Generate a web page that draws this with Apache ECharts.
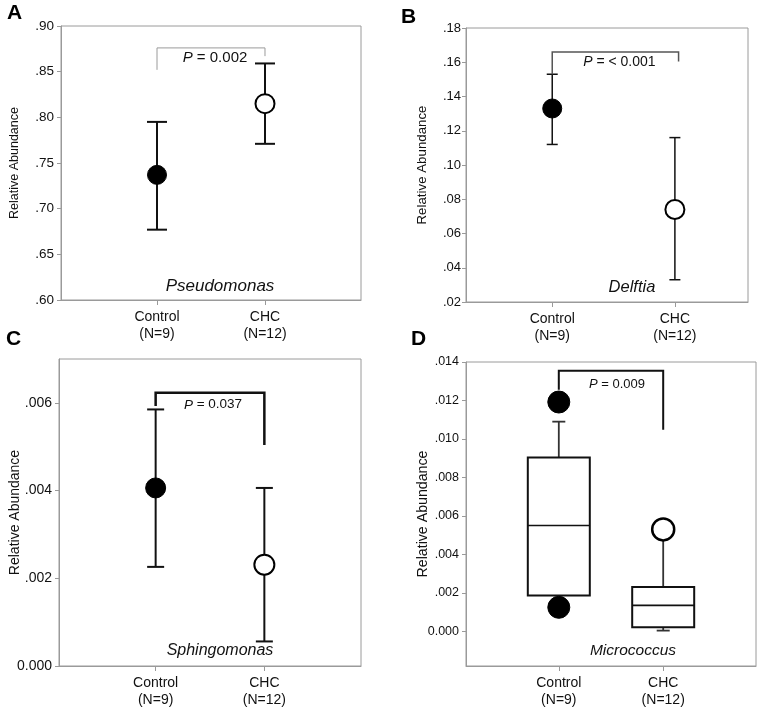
<!DOCTYPE html>
<html>
<head>
<meta charset="utf-8">
<script src="https://cdn.jsdelivr.net/npm/echarts@6/dist/echarts.min.js"></script>
<style>
html,body{margin:0;padding:0;background:#fff;}
#chart{width:759px;height:710px;}
</style>
</head>
<body>
<div id="chart"></div>
<script>
// ---------- data ----------
const categories = ['Control\n(N=9)', 'CHC\n(N=12)'];
const catPos = [0, 1];

// Panel A – Pseudomonas (mean with error bars)
const pseudoMean  = [0.737, 0.815];
const pseudoLower = [0.677, 0.771];
const pseudoUpper = [0.795, 0.859];
const pseudoBracket = [0.876, 0.852, 0.867];   // top, left end, right end
const pseudoP = '0.002';
const pseudoTicks = [0.60, 0.65, 0.70, 0.75, 0.80, 0.85, 0.90];

// Panel B – Delftia
const delftiaMean  = [0.133, 0.074];
const delftiaLower = [0.112, 0.033];
const delftiaUpper = [0.153, 0.116];
const delftiaBracket = [0.166, 0.153, 0.1605];
const delftiaP = '< 0.001';
const delftiaTicks = [0.02, 0.04, 0.06, 0.08, 0.10, 0.12, 0.14, 0.16, 0.18];

// Panel C – Sphingomonas
const sphingoMean  = [0.00406, 0.00231];
const sphingoLower = [0.00226, 0.00056];
const sphingoUpper = [0.00585, 0.00406];
const sphingoBracket = [0.00623, 0.00593, 0.00504];
const sphingoP = '0.037';
const sphingoTicks = [0, 0.002, 0.004, 0.006];

// Panel D – Micrococcus (box plot: whisker low, Q1, median, Q3, whisker high)
const microBox = [
  [0.00187, 0.00187, 0.0055, 0.00904, 0.0109],
  [0.00004, 0.00021, 0.00135, 0.00231, 0.0049]
];
const microOutlierGroup = [0, 0, 1];
const microOutlierValue = [0.01192, 0.00125, 0.0053];
const microBracket = [0.01355, 0.01256, 0.01048];
const microP = '0.009';
const microTicks = [0, 0.002, 0.004, 0.006, 0.008, 0.010, 0.012, 0.014];

// ---------- styling / layout ----------
const FF = '"Liberation Sans", Arial, Helvetica, sans-serif';
const AX = '#9a9a9a';
const TXT = '#111';

const panels = [
  {grid:{left:61, top:26, width:300, height:274}, xr:[-0.889, 1.889], yr:[0.60, 0.90], ticks:pseudoTicks, dec:2,
   lblSize:13.5, nameSize:12.5, nameGap:40, lblMargin:7,
   genus:'Pseudomonas', genusPos:[220, 286], genusSize:17, letter:'A', letterPos:[7, 13.5]},
  {grid:{left:466, top:28, width:282, height:274}, xr:[-0.703, 1.596], yr:[0.02, 0.18], ticks:delftiaTicks, dec:2,
   lblSize:13, nameSize:13.3, nameGap:37, lblMargin:5,
   genus:'Delftia', genusPos:[632, 287], genusSize:16.5, letter:'B', letterPos:[401, 17]},
  {grid:{left:59, top:359, width:302, height:307}, xr:[-0.889, 1.889], yr:[0, 0.007], ticks:sphingoTicks, dec:3,
   lblSize:14, nameSize:14, nameGap:37, lblMargin:7,
   genus:'Sphingomonas', genusPos:[220, 651], genusSize:16, letter:'C', letterPos:[6, 339]},
  {grid:{left:466, top:362, width:290, height:304}, xr:[-0.889, 1.889], yr:[-0.0018, 0.014], ticks:microTicks, dec:3,
   lblSize:12.5, nameSize:14.2, nameGap:36, lblMargin:7,
   genus:'Micrococcus', genusPos:[633, 651], genusSize:15.5, letter:'D', letterPos:[411, 339]}
];

function yFmt(dec) {
  return function (v) {
    if (Math.abs(v) < 1e-12) return (0).toFixed(dec);
    return v.toFixed(dec).replace(/^0/, '');
  };
}

const grids = [], xAxes = [], yAxes = [], series = [], graphics = [];

panels.forEach(function (p, i) {
  grids.push(Object.assign({show:true, borderColor:AX, borderWidth:1, backgroundColor:'#fff'}, p.grid));
  xAxes.push({
    type:'value', gridIndex:i, min:p.xr[0], max:p.xr[1],
    axisLine:{show:true, onZero:false, lineStyle:{color:AX, width:1}},
    axisTick:{show:true, customValues:catPos, length:5, lineStyle:{color:AX}},
    axisLabel:{customValues:catPos, formatter:function (v) { return categories[Math.round(v)]; },
      fontSize:14, lineHeight:17, color:TXT, fontFamily:FF, margin:9},
    splitLine:{show:false}
  });
  yAxes.push({
    type:'value', gridIndex:i, min:p.yr[0], max:p.yr[1],
    axisLine:{show:true, onZero:false, lineStyle:{color:AX, width:1}},
    axisTick:{show:true, customValues:p.ticks, length:4, lineStyle:{color:AX}},
    axisLabel:{customValues:p.ticks, formatter:yFmt(p.dec), fontSize:p.lblSize, color:TXT, fontFamily:FF, margin:p.lblMargin},
    splitLine:{show:false},
    name:'Relative Abundance', nameLocation:'middle', nameGap:p.nameGap, nameMoveOverlap:false,
    nameTextStyle:{fontSize:p.nameSize, color:TXT, fontFamily:FF}
  });
  graphics.push({type:'text', x:p.genusPos[0], y:p.genusPos[1], z:10,
    style:{text:p.genus, fontStyle:'italic', fontSize:p.genusSize, fontFamily:FF, fill:TXT, align:'center', verticalAlign:'middle'}});
  graphics.push({type:'text', x:p.letterPos[0], y:p.letterPos[1], z:10,
    style:{text:p.letter, fontWeight:'bold', fontSize:21, fontFamily:FF, fill:'#000', align:'left', verticalAlign:'middle'}});
});

function errorBarSeries(idx, lower, upper, lw, capHalf) {
  return {
    type:'custom', xAxisIndex:idx, yAxisIndex:idx, z:2, silent:true,
    data: catPos.map(function (x, k) { return [x, lower[k], upper[k]]; }),
    renderItem: function (params, api) {
      const x = api.value(0);
      const lo = api.coord([x, api.value(1)]);
      const hi = api.coord([x, api.value(2)]);
      const st = {stroke:'#111', lineWidth:lw};
      return {type:'group', children:[
        {type:'line', shape:{x1:lo[0], y1:lo[1], x2:hi[0], y2:hi[1]}, style:st},
        {type:'line', shape:{x1:hi[0]-capHalf, y1:hi[1], x2:hi[0]+capHalf, y2:hi[1]}, style:st},
        {type:'line', shape:{x1:lo[0]-capHalf, y1:lo[1], x2:lo[0]+capHalf, y2:lo[1]}, style:st}
      ]};
    }
  };
}

function meanSeries(idx, mean, size, bw) {
  return {
    type:'scatter', xAxisIndex:idx, yAxisIndex:idx, z:3, silent:true, symbol:'circle', symbolSize:size,
    data:[
      {value:[catPos[0], mean[0]], itemStyle:{color:'#000', borderColor:'#000', borderWidth:1, opacity:1}},
      {value:[catPos[1], mean[1]], itemStyle:{color:'#fff', borderColor:'#000', borderWidth:bw, opacity:1}}
    ]
  };
}

function bracketSeries(idx, br, pval, xRight, color, lw, fs, dx, dy) {
  return {
    type:'custom', xAxisIndex:idx, yAxisIndex:idx, z:4, silent:true,
    data:[[catPos[0], xRight, br[0], br[1], br[2]]],
    renderItem: function (params, api) {
      const x0 = api.value(0), x1 = api.value(1);
      const yt = api.value(2), yl = api.value(3), yr = api.value(4);
      const pL = api.coord([x0, yl]), pTL = api.coord([x0, yt]);
      const pTR = api.coord([x1, yt]), pR = api.coord([x1, yr]);
      return {type:'group', children:[
        {type:'polyline', shape:{points:[pL, pTL, pTR, pR]}, style:{stroke:color, lineWidth:lw, fill:'none'}},
        {type:'text', x:(pTL[0] + pTR[0]) / 2 + dx, y:pTL[1] + dy,
          style:{text:'{i|P} = ' + pval, fontSize:fs, fontFamily:FF, fill:TXT, align:'center', verticalAlign:'middle',
            rich:{i:{fontStyle:'italic', fontSize:fs, fontFamily:FF, fill:TXT}}}}
      ]};
    }
  };
}

// Panel A
series.push(errorBarSeries(0, pseudoLower, pseudoUpper, 2, 10));
series.push(meanSeries(0, pseudoMean, 19, 2));
series.push(bracketSeries(0, pseudoBracket, pseudoP, 1, '#9a9a9a', 1, 15, 4, 10));
// Panel B
series.push(errorBarSeries(1, delftiaLower, delftiaUpper, 1.5, 5.5));
series.push(meanSeries(1, delftiaMean, 19, 2));
series.push(bracketSeries(1, delftiaBracket, delftiaP, 1.03, '#555', 1.5, 14, 4, 10));
// Panel C
series.push(errorBarSeries(2, sphingoLower, sphingoUpper, 2, 8.5));
series.push(meanSeries(2, sphingoMean, 20, 2));
series.push(bracketSeries(2, sphingoBracket, sphingoP, 1, '#111', 2.5, 13.5, 3, 12));
// Panel D – box plot
series.push({
  type:'custom', xAxisIndex:3, yAxisIndex:3, z:2, silent:true,
  data: catPos.map(function (x, k) { return [x].concat(microBox[k]); }),
  renderItem: function (params, api) {
    const x = api.value(0);
    const wl = api.value(1), q1 = api.value(2), md = api.value(3), q3 = api.value(4), wh = api.value(5);
    const pWl = api.coord([x, wl]), pQ1 = api.coord([x, q1]), pMd = api.coord([x, md]);
    const pQ3 = api.coord([x, q3]), pWh = api.coord([x, wh]);
    const hw = 31, cap = 6.5;
    const wst = {stroke:'#333', lineWidth:1.8};
    const ch = [];
    if (wh > q3) {
      ch.push({type:'line', shape:{x1:pQ3[0], y1:pQ3[1], x2:pWh[0], y2:pWh[1]}, style:wst});
      ch.push({type:'line', shape:{x1:pWh[0]-cap, y1:pWh[1], x2:pWh[0]+cap, y2:pWh[1]}, style:wst});
    }
    if (wl < q1) {
      ch.push({type:'line', shape:{x1:pQ1[0], y1:pQ1[1], x2:pWl[0], y2:pWl[1]}, style:wst});
      ch.push({type:'line', shape:{x1:pWl[0]-cap, y1:pWl[1], x2:pWl[0]+cap, y2:pWl[1]}, style:wst});
    }
    ch.push({type:'rect', shape:{x:pQ3[0]-hw, y:pQ3[1], width:2*hw, height:pQ1[1]-pQ3[1]},
      style:{fill:'#fff', stroke:'#111', lineWidth:2}});
    ch.push({type:'line', shape:{x1:pMd[0]-hw, y1:pMd[1], x2:pMd[0]+hw, y2:pMd[1]}, style:{stroke:'#111', lineWidth:1.6}});
    return {type:'group', children:ch};
  }
});
series.push({
  type:'scatter', xAxisIndex:3, yAxisIndex:3, z:3, silent:true, symbol:'circle', symbolSize:22,
  data: microOutlierGroup.map(function (g, k) {
    return g === 0
      ? {value:[catPos[g], microOutlierValue[k]], itemStyle:{color:'#000', borderColor:'#000', borderWidth:1, opacity:1}}
      : {value:[catPos[g], microOutlierValue[k]], itemStyle:{color:'#fff', borderColor:'#000', borderWidth:2.5, opacity:1}};
  })
});
series.push(bracketSeries(3, microBracket, microP, 1, '#111', 2, 13, 6, 14));

const chart = echarts.init(document.getElementById('chart'), null, {renderer:'canvas'});
chart.setOption({
  backgroundColor:'#fff',
  animation:false,
  textStyle:{fontFamily:FF},
  grid:grids, xAxis:xAxes, yAxis:yAxes, series:series, graphic:graphics
});
</script>
</body>
</html>
